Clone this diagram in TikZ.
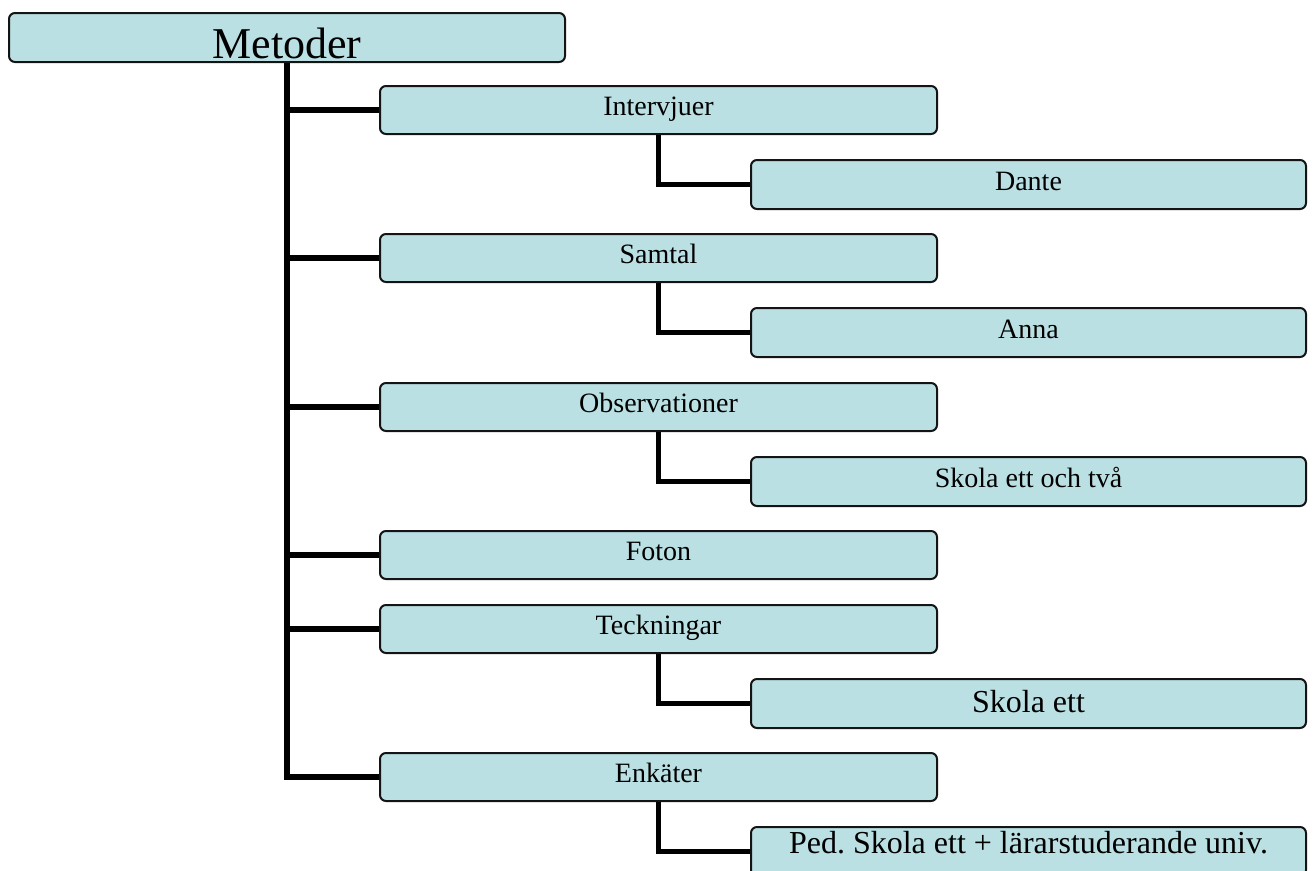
\documentclass[tikz,border=0pt]{standalone}
\usepackage{fontspec}
\setmainfont{Liberation Serif}
\definecolor{boxfill}{RGB}{186,224,227}
\definecolor{boxline}{RGB}{20,20,20}
\frenchspacing
\begin{document}
\begin{tikzpicture}[x=1pt,y=-1pt,
  boxbase/.style={draw=boxline, line width=2pt, fill=boxfill, rounded corners=6pt,
    rectangle, inner sep=0pt, anchor=north west, align=center},
  mainbox/.style={boxbase, minimum width=557pt, minimum height=48pt,
    text height=29pt, text depth=19pt, font=\fontsize{28}{32}\selectfont},
  subbox/.style={boxbase, minimum width=555pt, minimum height=49pt,
    text height=30pt, text depth=19pt, font=\fontsize{28}{32}\selectfont},
  rootbox/.style={boxbase, minimum width=556pt, minimum height=49pt,
    text height=45pt, text depth=4pt, font=\fontsize{44}{48}\selectfont},
  conn/.style={draw=black, line width=5.5pt, line join=miter}]
\useasboundingbox (0,0) rectangle (1314,870);

\node[rootbox] (met) at (8,12) {Metoder};

\node[mainbox] (intv) at (379,85) {Intervjuer};
\node[mainbox] (samt) at (379,233) {Samtal};
\node[mainbox] (obs) at (379,382) {Observationer};
\node[mainbox] (fot) at (379,530) {Foton};
\node[mainbox] (teck) at (379,604) {Teckningar};
\node[mainbox] (enk) at (379,752) {Enkäter};

\node[subbox] (dante) at (750,159) {Dante};
\node[subbox] (anna) at (750,307) {Anna};
\node[subbox] (skot) at (750,456) {Skola ett och två};
\node[subbox, text height=33pt, text depth=16pt, font=\fontsize{32}{36}\selectfont] (skett) at (750,678) {Skola ett};
\node[subbox, text height=26pt, text depth=23pt, font=\fontsize{32}{36}\selectfont] (ped) at (750,826) {Ped. Skola ett + lärarstuderande univ.};

\draw[conn] (met.south) |- (enk.west);
\foreach \n in {intv,samt,obs,fot,teck}
  \draw[conn] (met.south |- \n.west) -- (\n.west);

\draw[conn] (intv.south) |- (dante.west);
\draw[conn] (samt.south) |- (anna.west);
\draw[conn] (obs.south) |- (skot.west);
\draw[conn] (teck.south) |- (skett.west);
\draw[conn] (enk.south) |- (ped.west);
\end{tikzpicture}
\end{document}
